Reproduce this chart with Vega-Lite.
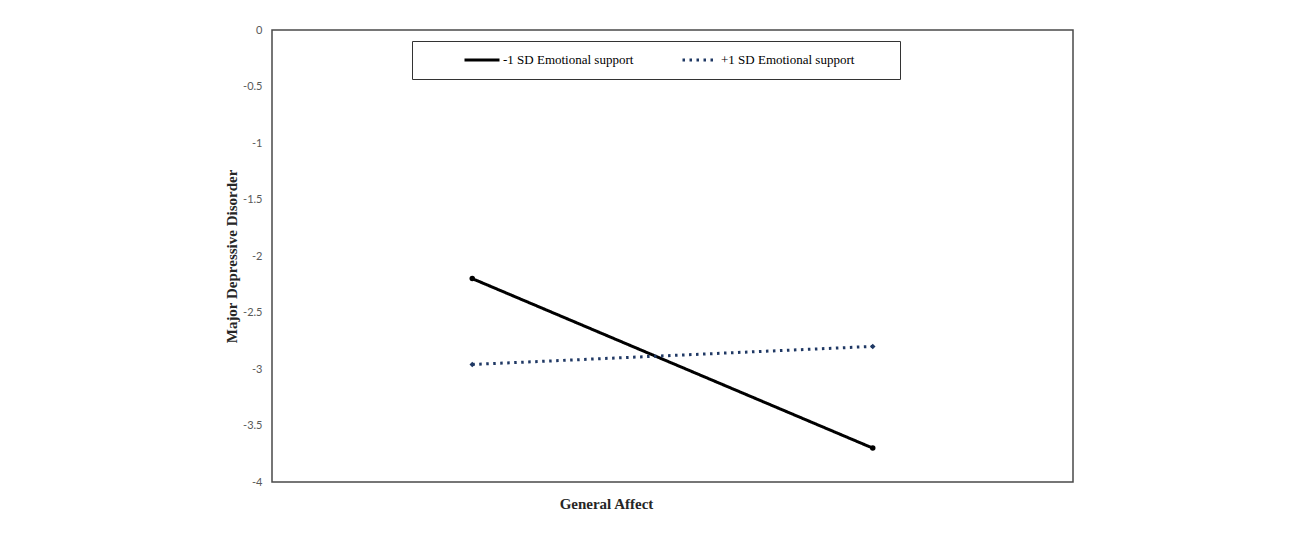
{
  "$schema": "https://vega.github.io/schema/vega-lite/v6.json",
  "width": 801,
  "height": 452,
  "autosize": {"type": "none"},
  "padding": {"left": 272, "top": 30, "right": 222, "bottom": 54},
  "background": "white",
  "config": {
    "view": {"stroke": "#4a4a4a", "strokeWidth": 1.5},
    "axis": {"grid": false, "ticks": false, "domain": false}
  },
  "data": {
    "values": [
      {"series": "-1 SD Emotional support", "affect": 1, "mdd": -2.2},
      {"series": "-1 SD Emotional support", "affect": 3, "mdd": -3.7},
      {"series": "+1 SD Emotional support", "affect": 1, "mdd": -2.96},
      {"series": "+1 SD Emotional support", "affect": 3, "mdd": -2.8}
    ]
  },
  "encoding": {
    "x": {
      "field": "affect", "type": "quantitative",
      "scale": {"domain": [0, 4]},
      "axis": {
        "labels": false, "title": "General Affect",
        "titleFont": "Liberation Serif", "titleFontSize": 15, "titleFontWeight": "bold",
        "titleColor": "#262626", "titleX": 334, "titleY": 14, "titleAlign": "center", "titleBaseline": "top"
      }
    },
    "y": {
      "field": "mdd", "type": "quantitative",
      "scale": {"domain": [-4, 0], "nice": false, "zero": false},
      "axis": {
        "values": [-4, -3.5, -3, -2.5, -2, -1.5, -1, -0.5, 0],
        "labelExpr": "replace(format(datum.value, '~g'), '\u2212', '-')",
        "labelFont": "Lato", "labelFontSize": 11, "labelColor": "#595959", "labelPadding": 10,
        "title": "Major Depressive Disorder",
        "titleFont": "Liberation Serif", "titleFontSize": 15, "titleFontWeight": "bold",
        "titleColor": "#262626", "titleX": -41, "titleY": 226, "titleAngle": -90,
        "titleAlign": "center", "titleBaseline": "middle"
      }
    }
  },
  "layer": [
    {
      "mark": {"type": "line", "strokeWidth": 3},
      "encoding": {
        "color": {
          "field": "series", "type": "nominal",
          "scale": {"domain": ["-1 SD Emotional support", "+1 SD Emotional support"], "range": ["#000000", "#1f3864"]},
          "legend": {
            "title": null, "orient": "none", "legendX": 140, "legendY": 11,
            "direction": "horizontal", "strokeColor": "#333333", "fillColor": "white",
            "padding": 6, "symbolType": "stroke", "symbolSize": 1225, "symbolStrokeWidth": 3,
            "clipHeight": 26,
            "symbolOffset": 45, "labelOffset": 2, "columnPadding": 2,
            "labelFont": "Liberation Serif", "labelFontSize": 13, "labelColor": "#000000",
            "labelLimit": 400,
            "labelExpr": "datum.value == '+1 SD Emotional support' ? datum.label + '\u2003\u2003\u2003\u200b' : datum.label"
          }
        },
        "strokeDash": {
          "field": "series", "type": "nominal",
          "scale": {"domain": ["-1 SD Emotional support", "+1 SD Emotional support"], "range": [[1, 0], [2.5, 4.5]]},
          "legend": null
        }
      }
    },
    {
      "transform": [{"filter": "datum.series == '-1 SD Emotional support'"}],
      "mark": {"type": "point", "filled": true, "size": 30, "opacity": 1, "shape": "circle", "color": "#000000"}
    },
    {
      "transform": [{"filter": "datum.series == '+1 SD Emotional support'"}],
      "mark": {"type": "point", "filled": true, "size": 30, "opacity": 1, "shape": "diamond", "color": "#1f3864"}
    }
  ]
}
